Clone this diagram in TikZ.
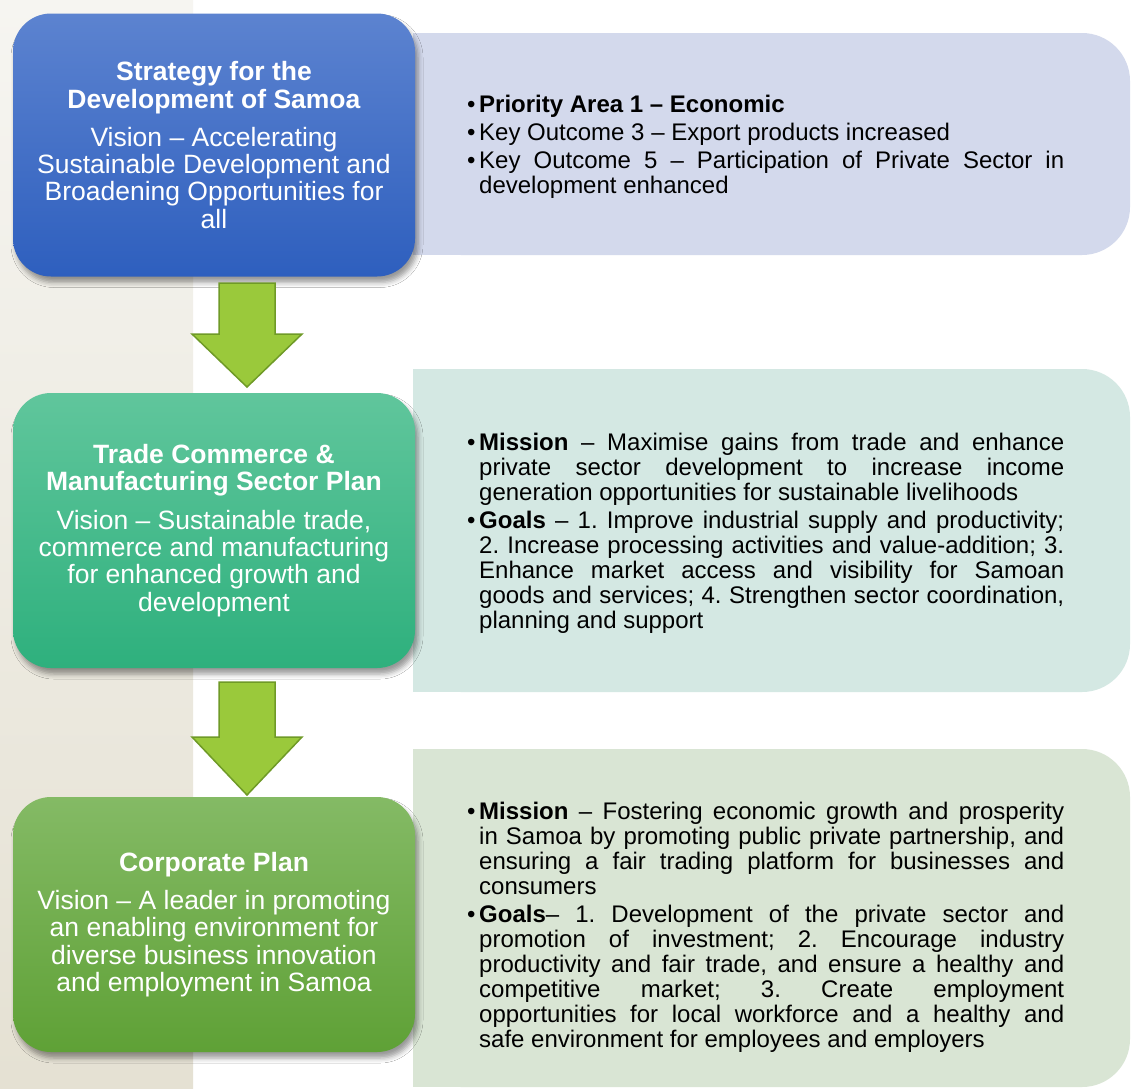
\documentclass[tikz,border=0pt]{standalone}
\usepackage{fontspec}
\setmainfont{Liberation Sans}
\usetikzlibrary{shadows.blur}
\definecolor{bluetop}{RGB}{92,131,208}
\definecolor{bluebot}{RGB}{46,95,190}
\definecolor{tealtop}{RGB}{96,198,156}
\definecolor{tealbot}{RGB}{46,176,125}
\definecolor{greentop}{RGB}{132,186,101}
\definecolor{greenbot}{RGB}{95,161,54}
\definecolor{rone}{RGB}{211,217,236}
\definecolor{rtwo}{RGB}{212,232,227}
\definecolor{rthree}{RGB}{217,229,212}
\definecolor{striptop}{RGB}{246,245,241}
\definecolor{stripbot}{RGB}{229,225,211}
\definecolor{arrowfill}{RGB}{154,201,59}
\definecolor{arrowline}{RGB}{111,154,39}
\newcommand{\bitem}[1]{\par\noindent\hangindent=12pt\hangafter=0\llap{•\hspace{3.6pt}}#1\par}
\frenchspacing
\begin{document}
\begin{tikzpicture}[x=1pt,y=-1pt,
  lbox/.style={rounded corners=38pt, minimum width=402pt, inner sep=0pt, text=white,
    align=center, font=\fontsize{26.5}{27.3}\selectfont,
    blur shadow={shadow xshift=3pt, shadow yshift=-6pt, shadow blur radius=5pt, shadow opacity=40}},
  rtext/.style={anchor=west, inner sep=0pt, text width=597pt, align=justify,
    font=\fontsize{24}{25}\selectfont},
  blockarrow/.style={fill=arrowfill, draw=arrowline, line width=1.5pt, line join=miter}]
\useasboundingbox (0,0) rectangle (1134,1088);
\fill[white] (0,0) rectangle (1134,1088);
\shade[top color=striptop, bottom color=stripbot] (0,0) rectangle (193,1088);
% right panels
\fill[rone] (413,33) rectangle (800,255);
\fill[rone, rounded corners=48pt] (413,33) rectangle (1130,255);
\fill[rtwo] (413,369) rectangle (800,692);
\fill[rtwo, rounded corners=48pt] (413,369) rectangle (1130,692);
\fill[rthree] (413,749) rectangle (800,1087);
\fill[rthree, rounded corners=48pt] (413,749) rectangle (1130,1087);
% left boxes
\node[lbox, minimum height=263pt, top color=bluetop, bottom color=bluebot] (b1) at (214,145)
  {\textbf{Strategy for the}\\\textbf{Development of Samoa}\\[11pt]
   Vision – Accelerating\\Sustainable Development and\\Broadening Opportunities for\\all};
\node[lbox, minimum height=275pt, top color=tealtop, bottom color=tealbot] (b2) at (214,530.5)
  {\textbf{Trade Commerce \&}\\\textbf{Manufacturing Sector Plan}\\[11pt]
   Vision – Sustainable trade,\\commerce and manufacturing\\for enhanced growth and\\development};
\node[lbox, minimum height=255pt, top color=greentop, bottom color=greenbot] (b3) at (214,924.5)
  {\textbf{Corporate Plan}\\[11pt]
   Vision – A leader in promoting\\an enabling environment for\\diverse business innovation\\and employment in Samoa};
% right texts
\node[rtext] (t1) at (467,141) {\setlength{\parskip}{3pt}\tolerance=10000\hbadness=10000
  \bitem{\textbf{Priority Area 1 – Economic}}
  \bitem{Key Outcome 3 – Export products increased}
  \bitem{Key Outcome 5 – Participation of Private Sector in\linebreak development enhanced}};
\node[rtext] (t2) at (467,528) {\setlength{\parskip}{2.5pt}\tolerance=10000\hbadness=10000
  \bitem{\textbf{Mission} – Maximise gains from trade and enhance\linebreak private sector development to increase income\linebreak generation opportunities for sustainable livelihoods}
  \bitem{\textbf{Goals} – 1. Improve industrial supply and productivity;\linebreak 2. Increase processing activities and value-addition; 3.\linebreak Enhance market access and visibility for Samoan\linebreak goods and services; 4. Strengthen sector coordination,\linebreak planning and support}};
\node[rtext] (t3) at (467,922) {\setlength{\parskip}{3pt}\tolerance=10000\hbadness=10000
  \bitem{\textbf{Mission} – Fostering economic growth and prosperity\linebreak in Samoa by promoting public private partnership, and\linebreak ensuring a fair trading platform for businesses and\linebreak consumers}
  \bitem{\textbf{Goals}– 1. Development of the private sector and\linebreak promotion of investment; 2. Encourage industry\linebreak productivity and fair trade, and ensure a healthy and\linebreak competitive market; 3. Create employment\linebreak opportunities for local workforce and a healthy and\linebreak safe environment for employees and employers}};
% block arrows
\draw[blockarrow] (219,283) -- (275,283) -- (275,334) -- (302,334) -- (247,387) -- (192,334) -- (219,334) -- cycle;
\draw[blockarrow] (219,682) -- (275,682) -- (275,737) -- (302,737) -- (247,795) -- (192,737) -- (219,737) -- cycle;
\end{tikzpicture}
\end{document}
